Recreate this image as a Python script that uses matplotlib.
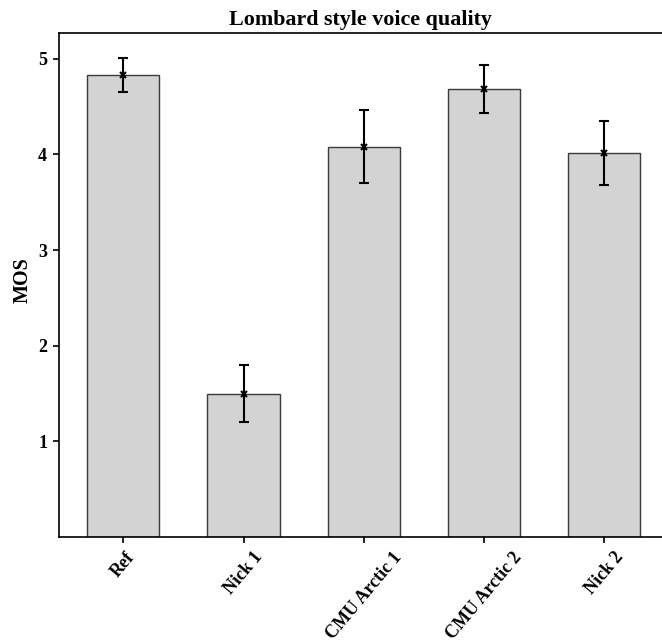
import matplotlib
matplotlib.use("Agg")
import matplotlib.pyplot as plt

categories = ["Ref", "Nick 1", "CMU Arctic 1", "CMU Arctic 2", "Nick 2"]
mos = [4.83, 1.50, 4.08, 4.68, 4.01]
err = [0.18, 0.30, 0.38, 0.25, 0.335]
yticks = [1, 2, 3, 4, 5]

plt.rcParams['font.family'] = ['Liberation Serif', 'DejaVu Serif']
plt.rcParams['font.weight'] = 'bold'

fig = plt.figure(figsize=(6.62, 6.44), dpi=100)
ax = fig.add_axes([0.089, 0.166, 0.911, 0.783])

x = list(range(len(categories)))
ax.bar(x, mos, width=0.6, color='#d3d3d3', edgecolor='#3a3a3a', linewidth=1.0, zorder=2)
ax.errorbar(x, mos, yerr=err, fmt='x', color='black', ecolor='black',
            elinewidth=1.5, capsize=3.6, capthick=1.5, markersize=4,
            markeredgewidth=1.5, zorder=3)

ax.set_xlim(-0.535, 4.48)
ax.set_ylim(0, 5.27)
ax.set_yticks(yticks)
ax.set_yticklabels([str(t) for t in yticks], fontsize=13, fontweight='bold')
ax.set_xticks(x)
ax.set_xticklabels(categories, rotation=50, ha='center',
                   fontsize=13, fontweight='bold')
ax.set_ylabel('MOS', fontsize=14.5, fontweight='bold')
ax.yaxis.set_label_coords(-0.043, 0.51)
ax.set_title('Lombard style voice quality', fontsize=15.8, fontweight='bold', pad=6)
ax.spines['right'].set_visible(False)
for s in ['left', 'bottom', 'top']:
    ax.spines[s].set_linewidth(1.2)
ax.tick_params(axis='both', direction='out', length=4.5, width=1.2, pad=4)

fig.savefig('out.png', dpi=100)
